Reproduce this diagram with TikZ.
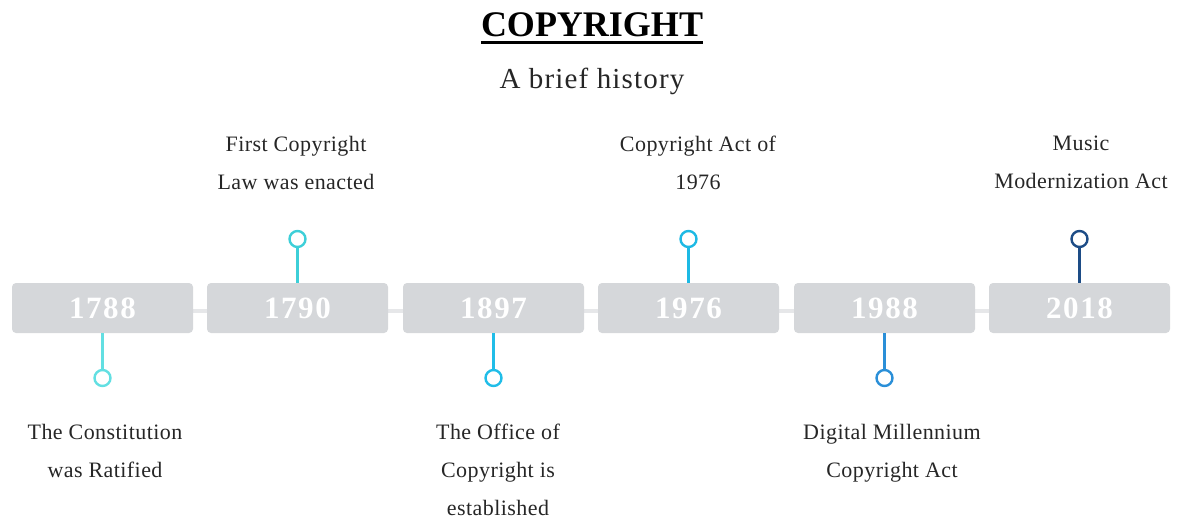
\documentclass[tikz,border=0pt]{standalone}
\usepackage{fontspec}
\setmainfont{LiberationSerif}[Extension=.ttf, UprightFont=*-Regular, BoldFont=*-Bold]
\newfontfamily\labelfont{LiberationSerif}[Extension=.ttf, UprightFont=*-Regular, LetterSpace=2]
\newfontfamily\subfont{LiberationSerif}[Extension=.ttf, UprightFont=*-Regular, LetterSpace=4]
\newfontfamily\yearfont{LiberationSerif}[Extension=.ttf, UprightFont=*-Bold, LetterSpace=5]
\usetikzlibrary{backgrounds}

\definecolor{boxgray}{HTML}{D5D7DA}
\definecolor{railgray}{HTML}{E6E7E9}
\definecolor{textgray}{HTML}{262626}
\definecolor{cA}{HTML}{62DFE2}
\definecolor{cB}{HTML}{3DCFD8}
\definecolor{cC}{HTML}{20BDE8}
\definecolor{cD}{HTML}{1DB9E4}
\definecolor{cE}{HTML}{2A8FD8}
\definecolor{cF}{HTML}{1D4C86}

\tikzset{
  yearbox/.style={rectangle, rounded corners=4pt, fill=boxgray, minimum width=181pt,
    minimum height=50pt, inner sep=0pt, text=white,
    font=\yearfont\fontsize{31}{31}\selectfont},
  eventtext/.style={align=center, inner sep=0pt, text=textgray, anchor=north,
    font=\labelfont\fontsize{22}{38}\selectfont},
  stem/.style={line width=2.4pt},
  pin/.style={circle, draw, line width=2.4pt, fill=white, minimum size=16pt, inner sep=0pt},
}

\begin{document}
\begin{tikzpicture}[x=1pt, y=-1pt]
\useasboundingbox (0,0) rectangle (1182,519);

% heading
\node[inner sep=0pt, anchor=base, text=black, font=\bfseries\fontsize{36}{36}\selectfont] (title) at (592,37) {COPYRIGHT};
\draw[line width=2.6pt] ([yshift=-5pt]title.south west) -- ([yshift=-5pt]title.south east);
\node[inner sep=0pt, anchor=base, text=textgray, font=\subfont\fontsize{29}{29}\selectfont] (subtitle) at (592,88) {A brief history};

% year boxes
\node[yearbox] (y1) at (102.5,308) {1788};
\node[yearbox] (y2) at (297.5,308) {1790};
\node[yearbox] (y3) at (493.5,308) {1897};
\node[yearbox] (y4) at (688.5,308) {1976};
\node[yearbox] (y5) at (884.5,308) {1988};
\node[yearbox] (y6) at (1079.5,308) {2018};

% rail behind the boxes
\begin{scope}[on background layer]
  \draw[railgray, line width=4pt] ([yshift=-3pt]y1.center) -- ([yshift=-3pt]y6.center);
\end{scope}

% pins
\node[pin, draw=cA] (p1) at (102.5,378) {};
\node[pin, draw=cB] (p2) at (297.5,239) {};
\node[pin, draw=cC] (p3) at (493.5,378) {};
\node[pin, draw=cD] (p4) at (688.5,239) {};
\node[pin, draw=cE] (p5) at (884.5,378) {};
\node[pin, draw=cF] (p6) at (1079.5,239) {};

\draw[stem, cA] (y1.south) -- (p1.north);
\draw[stem, cB] (y2.north) -- (p2.south);
\draw[stem, cC] (y3.south) -- (p3.north);
\draw[stem, cD] (y4.north) -- (p4.south);
\draw[stem, cE] (y5.south) -- (p5.north);
\draw[stem, cF] (y6.north) -- (p6.south);

% event descriptions
\node[eventtext] (t1) at (105,424) {The Constitution\\was Ratified};
\node[eventtext] (t2) at (296,136) {First Copyright\\Law was enacted};
\node[eventtext] (t3) at (498,424) {The Office of\\Copyright is\\established};
\node[eventtext] (t4) at (698,136) {Copyright Act of\\1976};
\node[eventtext] (t5) at (892,424) {Digital Millennium\\Copyright Act};
\node[eventtext] (t6) at (1081,136) {Music\\Modernization Act};
\end{tikzpicture}
\end{document}
